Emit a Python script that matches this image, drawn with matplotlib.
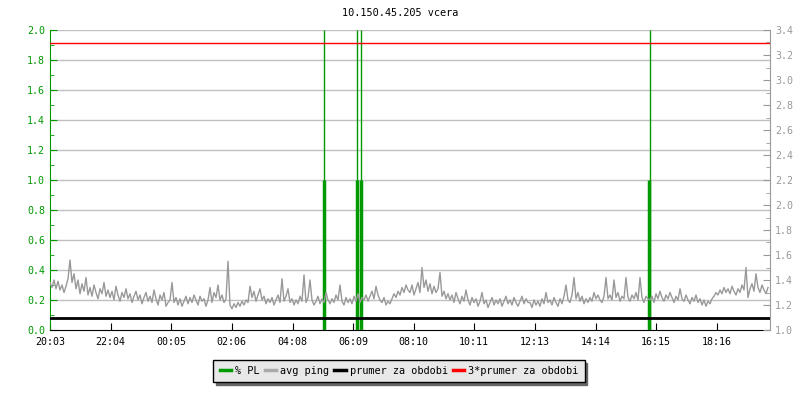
import matplotlib
matplotlib.use("Agg")
import matplotlib.pyplot as plt
import numpy as np
from matplotlib.ticker import MultipleLocator

GREEN = "#009900"
GRAY = "#999999"
GRID = "#c0c0c0"

title = "10.150.45.205 vcera"

# x axis: minutes since 20:03, full window is 24 h
tick_minutes = [0, 121, 242, 363, 485, 606, 727, 848, 970, 1091, 1212, 1333]
tick_labels = ["20:03", "22:04", "00:05", "02:06", "04:08", "06:09",
               "08:10", "10:11", "12:13", "14:14", "16:15", "18:16"]

# packet loss spikes (% PL, left axis)
pl_minutes = [547, 613, 621, 1198]
pl_values = [1.0, 1.0, 1.0, 1.0]

# avg ping (right axis), one sample every 4 minutes
ping_step = 4
avg_ping = [
    1.38, 1.34, 1.40, 1.33, 1.39, 1.32, 1.36, 1.30, 1.35, 1.41,
    1.56, 1.38, 1.45, 1.33, 1.40, 1.29, 1.37, 1.31, 1.42, 1.28,
    1.34, 1.27, 1.36, 1.30, 1.25, 1.33, 1.29, 1.38, 1.27, 1.32,
    1.26, 1.31, 1.24, 1.35, 1.28, 1.23, 1.30, 1.26, 1.33, 1.25,
    1.29, 1.22, 1.27, 1.31, 1.24, 1.28, 1.21, 1.26, 1.30, 1.23,
    1.27, 1.22, 1.32, 1.25, 1.20, 1.28, 1.24, 1.30, 1.19, 1.22,
    1.24, 1.38, 1.22, 1.26, 1.20, 1.25, 1.19, 1.23, 1.27, 1.21,
    1.26, 1.22, 1.28, 1.24, 1.20, 1.27, 1.23, 1.25, 1.19, 1.24,
    1.34, 1.22, 1.30, 1.26, 1.36, 1.24, 1.28, 1.22, 1.25, 1.55,
    1.20, 1.17, 1.21, 1.18, 1.22, 1.19, 1.23, 1.20, 1.24, 1.22,
    1.35, 1.26, 1.31, 1.23, 1.28, 1.33, 1.24, 1.27, 1.21, 1.25,
    1.22, 1.26, 1.20, 1.24, 1.28, 1.22, 1.41, 1.23, 1.27, 1.33,
    1.22, 1.25, 1.20, 1.24, 1.21, 1.27, 1.23, 1.44, 1.22, 1.26,
    1.40, 1.24, 1.20, 1.23, 1.27, 1.21, 1.25, 1.22, 1.30, 1.24,
    1.21, 1.25, 1.22, 1.28, 1.24, 1.36, 1.23, 1.20, 1.26, 1.22,
    1.25, 1.21, 1.27, 1.23, 1.29, 1.22, 1.26, 1.24, 1.28, 1.23,
    1.27, 1.31, 1.25, 1.35, 1.28, 1.24, 1.22, 1.26, 1.20, 1.23,
    1.21, 1.25, 1.29, 1.26, 1.31, 1.28, 1.34, 1.30, 1.36, 1.32,
    1.30, 1.36, 1.28, 1.33, 1.38, 1.30, 1.50, 1.34, 1.40, 1.31,
    1.37, 1.29, 1.35, 1.30, 1.33, 1.46, 1.27, 1.31, 1.25, 1.29,
    1.24, 1.28, 1.22, 1.30, 1.25, 1.21, 1.27, 1.23, 1.32, 1.24,
    1.20, 1.26, 1.22, 1.25, 1.19, 1.23, 1.30, 1.21, 1.24, 1.18,
    1.22, 1.26, 1.20, 1.24, 1.21, 1.25, 1.19, 1.23, 1.27, 1.21,
    1.24, 1.20, 1.26, 1.22, 1.19, 1.23, 1.27, 1.21, 1.25, 1.22,
    1.22, 1.18, 1.24, 1.20, 1.23, 1.19, 1.25, 1.21, 1.30, 1.22,
    1.24, 1.20, 1.26, 1.22, 1.19, 1.25, 1.21, 1.27, 1.36, 1.24,
    1.22, 1.28, 1.42, 1.25, 1.30, 1.23, 1.27, 1.21, 1.25, 1.22,
    1.26, 1.23, 1.30, 1.25, 1.28, 1.24, 1.22, 1.27, 1.42, 1.25,
    1.28, 1.24, 1.40, 1.26, 1.30, 1.23, 1.27, 1.25, 1.42, 1.26,
    1.23, 1.28, 1.25, 1.30, 1.24, 1.42, 1.26, 1.22, 1.27, 1.25,
    1.24, 1.27, 1.22, 1.29, 1.25, 1.31, 1.26, 1.23, 1.28, 1.25,
    1.30, 1.26, 1.22, 1.27, 1.24, 1.33, 1.25, 1.23, 1.28, 1.24,
    1.21, 1.26, 1.23, 1.28, 1.22, 1.25, 1.20, 1.24, 1.19, 1.23,
    1.21, 1.25, 1.27, 1.30, 1.28, 1.32, 1.29, 1.34, 1.30, 1.33,
    1.29, 1.35, 1.31, 1.28, 1.33, 1.30, 1.36, 1.32, 1.50, 1.26,
    1.33, 1.37, 1.31, 1.45, 1.34, 1.30, 1.36, 1.32, 1.29, 1.34,
]

# period average (right axis) and 3x that
period_mean = 1.099

plt.rcParams["font.family"] = ["DejaVu Sans Mono"]
plt.rcParams["font.size"] = 7.2

fig = plt.figure(figsize=(8, 4), dpi=100)
ax = fig.add_axes([50 / 800, 70 / 400, 720 / 800, 300 / 400])
ax2 = ax.twinx()

ax.set_xlim(0, 1440)
ax.set_ylim(0, 2.0)
ax2.set_ylim(1.0, 3.4)

# horizontal grid
for g in np.arange(0.2, 2.01, 0.2):
    ax.axhline(g, color=GRID, lw=1, zorder=0)

ping_x = np.arange(len(avg_ping)) * ping_step
ax2.plot(ping_x, avg_ping, color=GRAY, lw=1, zorder=2)
ax2.axhline(period_mean, color="black", lw=2, zorder=3)
ax2.axhline(3 * period_mean, color="red", lw=1, zorder=3)

# PL spikes: thick part at value, thin marker to the top
ax.vlines(pl_minutes, 0, pl_values, color=GREEN, lw=2.5, zorder=4)
ax.vlines([m + 1 for m in pl_minutes], 0, 2.0, color=GREEN, lw=1, zorder=4)

ax.set_xticks(tick_minutes)
ax.set_xticklabels(tick_labels)
ax.yaxis.set_major_locator(MultipleLocator(0.2))
ax.yaxis.set_minor_locator(MultipleLocator(0.1))
ax.yaxis.set_major_formatter(plt.FuncFormatter(lambda v, p: f"{v:.1f}"))
ax.tick_params(axis="y", which="both", direction="in", colors=GREEN, labelcolor=GREEN, labelsize=7.2)
ax.tick_params(axis="y", which="major", length=5)
ax.tick_params(axis="y", which="minor", length=3)
ax.tick_params(axis="x", direction="in", length=5, colors="black", pad=5, labelsize=7.2)

ax2.yaxis.set_major_locator(MultipleLocator(0.2))
ax2.yaxis.set_minor_locator(MultipleLocator(0.1))
ax2.yaxis.set_major_formatter(plt.FuncFormatter(lambda v, p: f"{v:.1f}"))
ax2.tick_params(axis="y", which="both", direction="in", colors=GRAY, labelcolor=GRAY, labelsize=7.2)
ax2.tick_params(axis="y", which="major", length=5)
ax2.tick_params(axis="y", which="minor", length=3)

for a in (ax, ax2):
    a.spines["top"].set_visible(False)
ax.spines["left"].set_color(GREEN)
ax.spines["bottom"].set_color("black")
ax.spines["right"].set_visible(False)
ax2.spines["left"].set_visible(False)
ax2.spines["bottom"].set_visible(False)
ax2.spines["right"].set_color(GRAY)

fig.text(0.5, 1 - 13 / 400, title, ha="center", va="center", fontsize=7.4)

handles = [
    plt.Line2D([], [], color=GREEN, lw=2.5),
    plt.Line2D([], [], color="#aaaaaa", lw=2.5),
    plt.Line2D([], [], color="black", lw=2.5),
    plt.Line2D([], [], color="red", lw=2.5),
]
labels = ["% PL", "avg ping", "prumer za obdobi", "3*prumer za obdobi"]
leg = fig.legend(handles, labels, loc="center", bbox_to_anchor=(399 / 800, 1 - 371 / 400),
                 ncol=4, frameon=True, fancybox=False, shadow={"color": "#666666", "alpha": 1},
                 fontsize=7.4, handlelength=1.1, handletextpad=0.4, columnspacing=0.5,
                 borderpad=0.6)
leg.get_frame().set_facecolor("#e8e8e8")
leg.get_frame().set_edgecolor("black")
leg.get_frame().set_alpha(1)

fig.savefig("out.png", dpi=100)
